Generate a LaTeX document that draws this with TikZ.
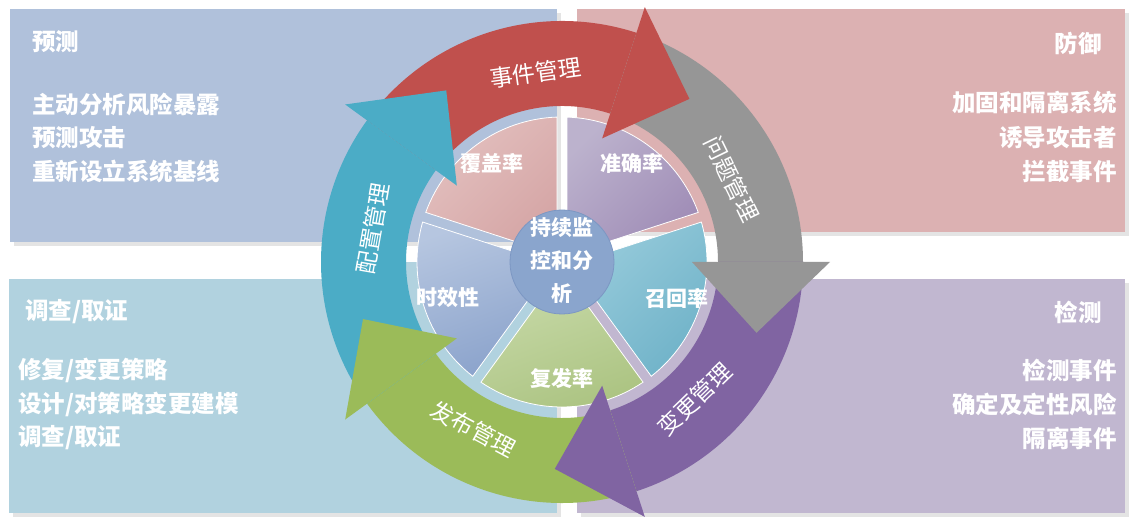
\documentclass[tikz,border=0pt]{standalone}
\usepackage{fontspec}
\newfontfamily\cjk{Noto Sans CJK SC}
\definecolor{tlbox}{HTML}{B0C1DB}
\definecolor{trbox}{HTML}{DCB1B2}
\definecolor{blbox}{HTML}{B1D2DF}
\definecolor{brbox}{HTML}{C1B7D0}
\definecolor{shadowc}{HTML}{E4E4E4}
\definecolor{ared}{HTML}{C0504D}
\definecolor{agray}{HTML}{969696}
\definecolor{apurple}{HTML}{8064A2}
\definecolor{agreen}{HTML}{9BBB59}
\definecolor{ablue}{HTML}{4BACC6}
\definecolor{cfill}{HTML}{8AA5CD}
\definecolor{cedge}{HTML}{7C97C3}
\definecolor{covA}{HTML}{E3C0BF}
\definecolor{covB}{HTML}{D5A5A5}
\definecolor{accA}{HTML}{BCB2CD}
\definecolor{accB}{HTML}{9F8CB6}
\definecolor{recA}{HTML}{97CBDB}
\definecolor{recB}{HTML}{6FB2C8}
\definecolor{repA}{HTML}{C8DAA9}
\definecolor{repB}{HTML}{ABC381}
\definecolor{timA}{HTML}{B6C6E0}
\definecolor{timB}{HTML}{8AA2CB}
\tikzset{
  boxtext/.style={text=white, font=\cjk\bfseries\fontsize{23.5}{34}\selectfont, inner sep=0pt},
  segtext/.style={text=white, font=\cjk\bfseries\fontsize{21}{33}\selectfont, inner sep=0pt},
  arrowtext/.style={text=white, font=\cjk\fontsize{23}{28}\selectfont, inner sep=0pt},
  segline/.style={draw=white, line width=0.8pt},
}
\newcommand{\mysegment}[5]{%
  \shadedraw[segline, top color=#3, bottom color=#4, shading angle=#5]
    ({(#1+#2)/2}:8.5) -- ({#1+2}:145) arc[start angle={#1+2}, end angle={#2-2}, radius=145] -- cycle;}
\newcommand{\mybody}[2]{%
  \fill[#2] ({#1+72}:241) arc[start angle={#1+72}, end angle={#1}, radius=241]
    -- ({#1}:156) arc[start angle={#1}, end angle={#1+72}, radius=156] -- cycle;}
\newcommand{\myhead}[2]{%
  \fill[#2] ({#1}:268) -- ({#1-20}:207) -- ({#1}:130) -- cycle;}
\begin{document}
\begin{tikzpicture}[x=1pt,y=1pt]
\useasboundingbox (0,0) rectangle (1146,532);
\fill[white] (0,0) rectangle (1146,532);
% shadows
\fill[shadowc] (14,286) rectangle (561,519);
\fill[shadowc] (581,296) rectangle (1129,519);
\fill[shadowc] (13,15) rectangle (561,249);
\fill[shadowc] (581,15) rectangle (1129,249);
% quadrant boxes
\node[fill=tlbox, minimum width=547pt, minimum height=233pt, inner sep=0pt, anchor=south west] (tl) at (10,290) {};
\node[fill=trbox, minimum width=548pt, minimum height=223pt, inner sep=0pt, anchor=south west] (tr) at (577,300) {};
\node[fill=blbox, minimum width=548pt, minimum height=234pt, inner sep=0pt, anchor=south west] (bl) at (9,19) {};
\node[fill=brbox, minimum width=548pt, minimum height=234pt, inner sep=0pt, anchor=south west] (br) at (577,19) {};
% ring backdrop piece (lower-left quadrant colour reaching the centre line)
\begin{scope}
  \clip (562,270) circle (158);
  \fill[blbox] (400,253) rectangle (557,270);
\end{scope}
% box texts
\node[boxtext, anchor=west] (t1) at (32,490) {预测};
\node[boxtext, anchor=west] (t2) at (32,428) {主动分析风险暴露};
\node[boxtext, anchor=west] (t3) at (32,394) {预测攻击};
\node[boxtext, anchor=west] (t4) at (32,360) {重新设立系统基线};
\node[boxtext, anchor=east] (r1) at (1102,489) {防御};
\node[boxtext, anchor=east] (r2) at (1117,429) {加固和隔离系统};
\node[boxtext, anchor=east] (r3) at (1117,394) {诱导攻击者};
\node[boxtext, anchor=east] (r4) at (1117,360) {拦截事件};
\node[boxtext, anchor=west] (b1) at (25,220) {调查/取证};
\node[boxtext, anchor=west] (b2) at (18,162) {修复/变更策略};
\node[boxtext, anchor=west] (b3) at (18,128) {设计/对策略变更建模};
\node[boxtext, anchor=west] (b4) at (18,94) {调查/取证};
\node[boxtext, anchor=east] (d1) at (1102,220) {检测};
\node[boxtext, anchor=east] (d2) at (1117,162) {检测事件};
\node[boxtext, anchor=east] (d3) at (1117,128) {确定及定性风险};
\node[boxtext, anchor=east] (d4) at (1117,94) {隔离事件};
% wheel
\begin{scope}[shift={(562,270)}]
  \mysegment{90}{162}{covA}{covB}{45}
  \mysegment{18}{90}{accA}{accB}{45}
  \mysegment{-54}{18}{recA}{recB}{45}
  \mysegment{-126}{-54}{repA}{repB}{20}
  \mysegment{162}{234}{timA}{timB}{20}
  \filldraw[fill=cfill, draw=cedge, line width=0.8pt] (0,0) circle (52);
  % arrow bodies
  \mybody{72}{ared}
  \mybody{0}{agray}
  \mybody{-72}{apurple}
  \mybody{-144}{agreen}
  \mybody{144}{ablue}
  % arrow heads
  \myhead{72}{ared}
  \myhead{0}{agray}
  \myhead{-72}{apurple}
  \myhead{-144}{agreen}
  \myhead{144}{ablue}
  % arrow labels
  \node[arrowtext, rotate=8] (l1) at (98:191) {事件管理};
  \node[arrowtext, rotate=-64] (l2) at (26:189) {问题管理};
  \node[arrowtext, rotate=44] (l3) at (-46:191) {变更管理};
  \node[arrowtext, rotate=-28] (l4) at (-118:189) {发布管理};
  \node[arrowtext, rotate=80] (l5) at (170:192) {配置管理};
\end{scope}
% segment labels
\node[segtext] (s1) at (492,369) {覆盖率};
\node[segtext] (s2) at (632,369) {准确率};
\node[segtext] (s3) at (677,234) {召回率};
\node[segtext] (s4) at (562,154) {复发率};
\node[segtext] (s5) at (448,234) {时效性};
\node[segtext, align=center] (c) at (562,271) {持续监\\控和分\\析};
\end{tikzpicture}
\end{document}
